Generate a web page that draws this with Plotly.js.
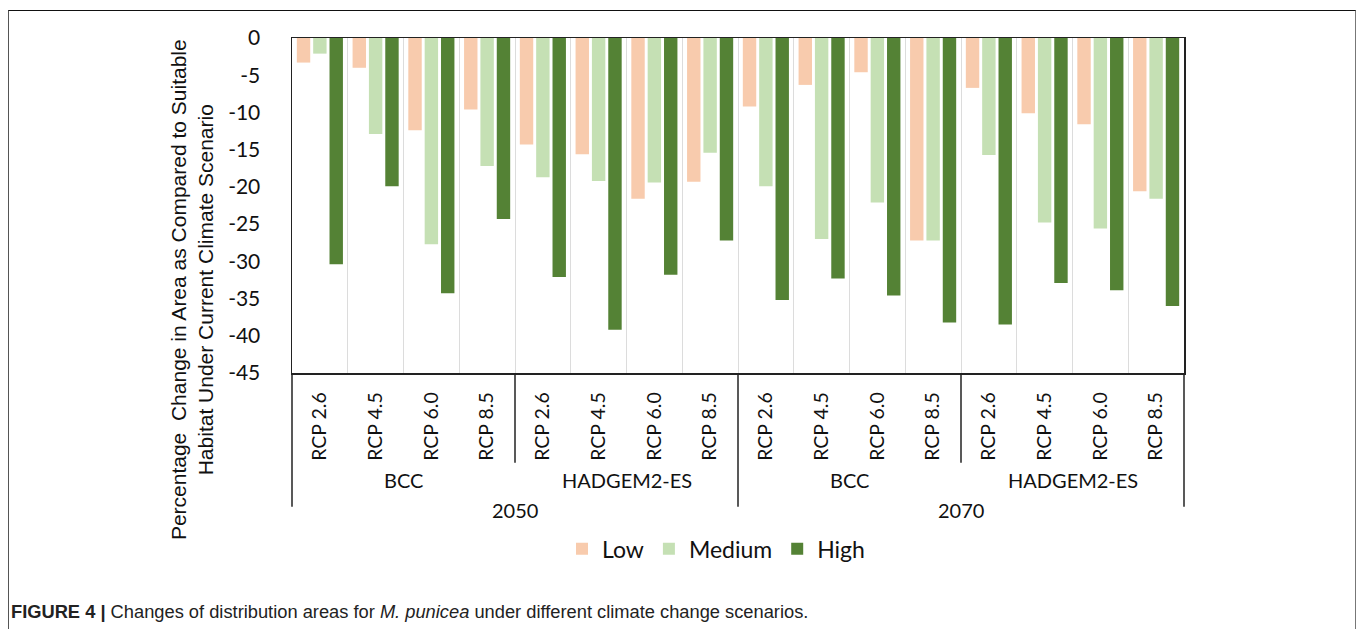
<!DOCTYPE html>
<html>
<head>
<meta charset="utf-8">
<script src="https://cdn.plot.ly/plotly-3.0.1.min.js"></script>
<style>
  html, body { margin:0; padding:0; background:#fff; }
  #frame { position:absolute; left:8px; top:10px; width:1346px; height:700px;
           border-top:1.5px solid #111; border-left:1.5px solid #555; border-right:1.5px solid #777; }
  #chart { position:absolute; left:0; top:0; width:1358px; height:629px; }
</style>
</head>
<body>
<div id="frame"></div>
<div id="chart"></div>
<script>
// ---- data ----
const rcpLabels = ['RCP 2.6', 'RCP 4.5', 'RCP 6.0', 'RCP 8.5'];
const models = ['BCC', 'HADGEM2-ES'];
const years = ['2050', '2070'];

const low    = [-3.3, -4.0, -12.4, -9.6, -14.3, -15.6, -21.6, -19.3, -9.2, -6.3, -4.6, -27.2, -6.7, -10.1, -11.6, -20.6];
const medium = [-2.1, -12.9, -27.7, -17.2, -18.7, -19.2, -19.4, -15.4, -19.9, -27.0, -22.1, -27.2, -15.7, -24.8, -25.6, -21.6];
const high   = [-30.4, -19.9, -34.3, -24.3, -32.1, -39.2, -31.8, -27.2, -35.2, -32.3, -34.6, -38.2, -38.5, -32.9, -33.9, -36.0];

const yTicks = [0, -5, -10, -15, -20, -25, -30, -35, -40, -45];

// ---- build category structure ----
const tickText = [];
years.forEach(() => models.forEach(() => rcpLabels.forEach(r => tickText.push(r))));
const n = tickText.length;
const xIdx = tickText.map((_, i) => i);

const calibri = 'Lato, "Open Sans", sans-serif';
const mk = (name, y, color) => ({
  type: 'bar', name: name, x: xIdx, y: y,
  marker: { color: color, line: { width: 0 } },
  hoverinfo: 'skip'
});
const data = [
  mk('Low', low, '#F8CBAD'),
  mk('Medium', medium, '#C5E0B4'),
  mk('High', high, '#548235')
];

// paper helpers
const plotTop = 37.5, plotBottom = 373, plotH = plotBottom - plotTop;
const py = p => (plotBottom - p) / plotH;

const shapes = [];
const annotations = [];
const perModel = rcpLabels.length;
const perYear = perModel * models.length;

// model dividers (short) and year dividers (long)
for (let b = 0; b <= n; b += perModel) {
  const isYear = (b % perYear === 0);
  shapes.push({
    type: 'line', xref: 'paper', yref: 'paper',
    x0: b / n, x1: b / n, y0: 0, y1: isYear ? py(507) : py(463),
    line: { color: '#222', width: 1.5 }
  });
}
// model labels
years.forEach((yr, yi) => models.forEach((m, mi) => {
  const start = yi * perYear + mi * perModel;
  annotations.push({
    xref: 'paper', yref: 'paper', x: (start + perModel / 2) / n, y: py(480),
    text: m, showarrow: false, xanchor: 'center', yanchor: 'middle',
    font: { family: calibri, size: 20, color: '#111' }
  });
}));
// year labels
years.forEach((yr, yi) => {
  annotations.push({
    xref: 'paper', yref: 'paper', x: (yi * perYear + perYear / 2) / n, y: py(510),
    text: yr, showarrow: false, xanchor: 'center', yanchor: 'middle',
    font: { family: calibri, size: 20, color: '#111' }
  });
});
// y-axis title
annotations.push({
  xref: 'paper', yref: 'paper', x: (192 - 292) / 892, y: py(290),
  text: 'Percentage  Change in Area as Compared to Suitable<br>Habitat Under Current Climate Scenario',
  textangle: -90, showarrow: false, xanchor: 'center', yanchor: 'middle',
  font: { family: '"Liberation Sans", Arial, sans-serif', size: 21, color: '#111' }
});
// caption
annotations.push({
  xref: 'paper', yref: 'paper', x: (9 - 292) / 892, y: py(612),
  text: '<b>FIGURE 4 |</b> Changes of distribution areas for <i>M. punicea</i> under different climate change scenarios.',
  showarrow: false, xanchor: 'left', yanchor: 'middle',
  font: { family: '"Liberation Sans", Arial, sans-serif', size: 18.3, color: '#222' }
});

const boundaries = [];
for (let i = 0; i < n - 1; i++) boundaries.push(i + 0.5);

const layout = {
  width: 1358, height: 629,
  margin: { l: 292, r: 174, t: plotTop, b: 629 - plotBottom, pad: 0 },
  paper_bgcolor: 'rgba(0,0,0,0)',
  plot_bgcolor: '#ffffff',
  barmode: 'group',
  bargap: 0.12,
  bargroupgap: 0.18,
  showlegend: true,
  legend: {
    orientation: 'h', xref: 'paper', yref: 'paper',
    x: (716 - 292) / 892, xanchor: 'center', y: py(549), yanchor: 'middle',
    font: { family: calibri, size: 23, color: '#111' },
    itemclick: false, itemdoubleclick: false, bgcolor: 'rgba(0,0,0,0)'
  },
  xaxis: {
    type: 'linear', range: [-0.5, n - 0.5],
    tickmode: 'array', tickvals: xIdx, ticktext: tickText,
    tickangle: -90, ticks: '', ticklabelstandoff: 10,
    tickfont: { family: calibri, size: 19.5, color: '#111' },
    showgrid: false, zeroline: false,
    showline: true, mirror: true, linecolor: '#222', linewidth: 1.5,
    minor: { tickmode: 'array', tickvals: boundaries, showgrid: true, gridcolor: '#dcdcdc', gridwidth: 1, ticks: '' },
    fixedrange: true
  },
  yaxis: {
    range: [-45, 0], tickmode: 'array', tickvals: yTicks, ticktext: yTicks.map(String),
    ticks: '', ticklabelstandoff: 26,
    tickfont: { family: calibri, size: 21, color: '#111' },
    showgrid: false, zeroline: false,
    showline: true, mirror: true, linecolor: '#222', linewidth: 1.5,
    fixedrange: true
  },
  shapes: shapes,
  annotations: annotations
};

Plotly.newPlot('chart', data, layout, { displayModeBar: false, staticPlot: true });
</script>
</body>
</html>
